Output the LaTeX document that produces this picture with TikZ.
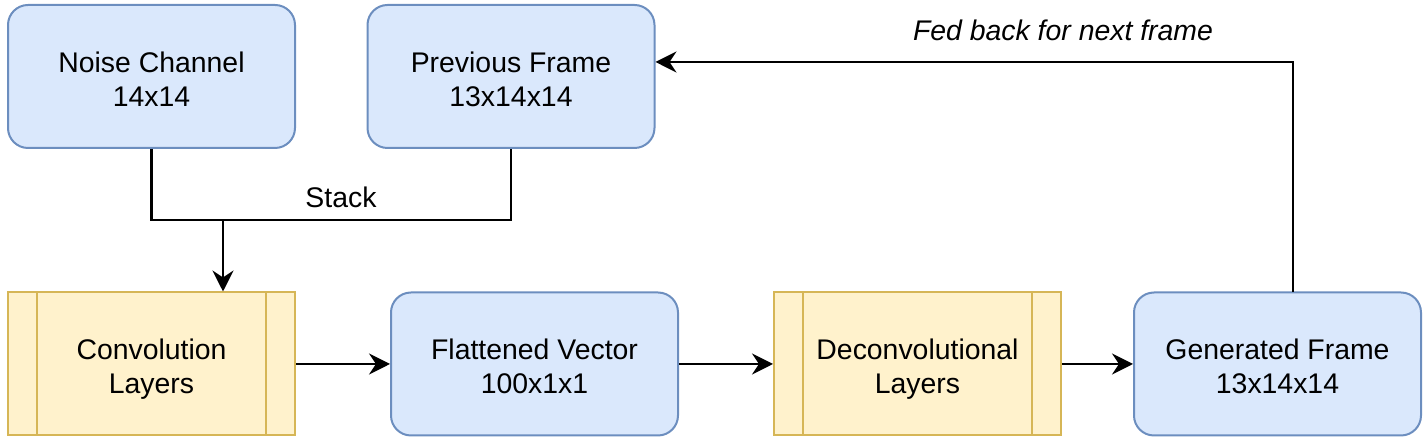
\documentclass[tikz,border=0pt]{standalone}
\usepackage{fontspec}
\setmainfont{Liberation Sans}
\usetikzlibrary{arrows.meta}
\definecolor{bfill}{HTML}{DAE8FC}
\definecolor{bline}{HTML}{6C8EBF}
\definecolor{yfill}{HTML}{FFF2CC}
\definecolor{yline}{HTML}{D6B656}
\newcommand{\twolines}[2]{\rule{0pt}{15.6pt}#1\\#2\rule[-3pt]{0pt}{3pt}}
\begin{document}
\begin{tikzpicture}[x=0.5pt,y=-0.5pt,
  every node/.style={font=\fontsize{14.2}{17}\selectfont, align=center},
  bluebox/.style={draw=bline, fill=bfill, line width=1pt, rounded corners=10pt,
    minimum width=143.5pt, minimum height=71.5pt, inner sep=0pt},
  procbox/.style={draw=yline, fill=yfill, line width=1pt,
    minimum width=143.5pt, minimum height=71.5pt, inner sep=0pt,
    path picture={
      \draw[yline, line width=1pt]
        ([xshift=14.5pt]path picture bounding box.north west) -- ([xshift=14.5pt]path picture bounding box.south west)
        ([xshift=-14.5pt]path picture bounding box.north east) -- ([xshift=-14.5pt]path picture bounding box.south east);
    }},
  conn/.style={line width=1.1pt, black},
  arr/.style={conn, -{Stealth[length=10.5pt, width=10.5pt, inset=3.5pt]}},
  lbl/.style={font=\fontsize{14.2}{17}\selectfont}
]
\useasboundingbox (0,0) rectangle (1426,442);

\node[bluebox] (noise) at (151.5,76.5) {\twolines{Noise Channel}{14x14}};
\node[bluebox] (prev) at (511,76.5) {\twolines{Previous Frame}{13x14x14}};
\node[procbox] (conv) at (151.5,364) {\twolines{Convolution}{Layers}};
\node[bluebox] (flat) at (534.5,364) {\twolines{Flattened Vector}{100x1x1}};
\node[procbox] (deconv) at (917.5,364) {\twolines{Deconvolutional}{Layers}};
\node[bluebox] (gen) at (1277.5,364) {\twolines{Generated Frame}{13x14x14}};

\coordinate (j) at (223,220);
\draw[conn] (noise.south) |- (j) -| (prev.south);
\draw[arr] (j) -- (j |- conv.north);
\node[lbl] (stack) at (341,197) {Stack};

\draw[arr] (conv.east) -- (flat.west);
\draw[arr] (flat.east) -- (deconv.west);
\draw[arr] (deconv.east) -- (gen.west);

\coordinate (fb) at (1293,292);
\draw[arr] (fb) |- ([yshift=7.25pt]prev.east);
\node[lbl, font=\fontsize{14.2}{17}\selectfont\itshape] (fedlbl) at (1063,30) {Fed back for next frame};
\end{tikzpicture}
\end{document}
